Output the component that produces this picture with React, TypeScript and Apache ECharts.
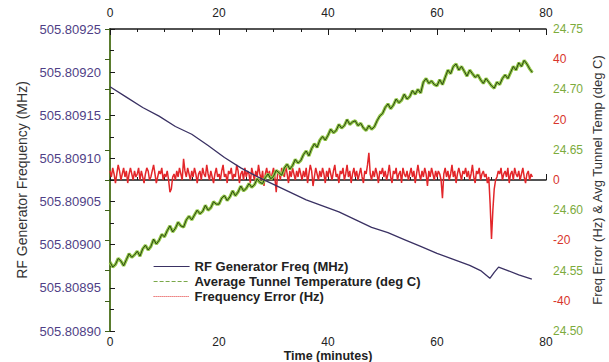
import React, { useEffect, useRef } from "react";
import * as echarts from "echarts";

const FONT = "'Liberation Sans', Arial, sans-serif";

const xTicks = [0, 20, 40, 60, 80];
const leftTicks = ["505.80890", "505.80895", "505.80900", "505.80905", "505.80910", "505.80915", "505.80920", "505.80925"];
const tempTicks = ["24.50", "24.55", "24.60", "24.65", "24.70", "24.75"];
const errTicks = [-40, -20, 0, 20, 40];

const rfTime = [0, 3, 6, 9, 12, 15, 18, 21, 24, 27, 30, 33, 36, 39, 42, 45, 48, 51, 54, 57, 60, 63, 66, 68, 69.7, 70.5, 71.3, 73, 75, 77.4];
const rfFreq = [
  505.809183, 505.809171, 505.809159, 505.809149, 505.809137, 505.809128, 505.809115, 505.809101,
  505.809089, 505.809079, 505.80907, 505.809061, 505.809052, 505.809045, 505.809038, 505.809029,
  505.80902, 505.809014, 505.809006, 505.808998, 505.80899, 505.808983, 505.808976, 505.80897,
  505.808961, 505.808968, 505.808974, 505.80897, 505.808965, 505.80896,
];

const tempStep = 0.5; // minutes between temperature samples
const tempC = [
  24.557, 24.553, 24.555, 24.560, 24.558, 24.554, 24.559, 24.564, 24.561, 24.563,
  24.566, 24.562, 24.568, 24.571, 24.567, 24.570, 24.576, 24.572, 24.575, 24.580,
  24.578, 24.583, 24.587, 24.582, 24.585, 24.590, 24.587, 24.586, 24.592, 24.595,
  24.592, 24.596, 24.600, 24.597, 24.599, 24.604, 24.600, 24.602, 24.607, 24.605,
  24.605, 24.610, 24.612, 24.608, 24.611, 24.616, 24.612, 24.615, 24.620, 24.616,
  24.618, 24.622, 24.619, 24.621, 24.626, 24.623, 24.622, 24.627, 24.630, 24.626,
  24.628, 24.633, 24.631, 24.629, 24.635, 24.638, 24.634, 24.637, 24.642, 24.639,
  24.641, 24.646, 24.649, 24.645, 24.651, 24.655, 24.652, 24.658, 24.661, 24.658,
  24.662, 24.667, 24.664, 24.666, 24.671, 24.668, 24.670, 24.675, 24.671, 24.673,
  24.674, 24.670, 24.672, 24.668, 24.666, 24.670, 24.667, 24.669, 24.674, 24.678,
  24.680, 24.685, 24.688, 24.684, 24.687, 24.692, 24.689, 24.691, 24.696, 24.692,
  24.694, 24.699, 24.696, 24.700, 24.697, 24.706, 24.709, 24.705, 24.707, 24.704,
  24.703, 24.708, 24.704, 24.710, 24.716, 24.713, 24.719, 24.721, 24.716, 24.719,
  24.715, 24.711, 24.716, 24.713, 24.710, 24.712, 24.708, 24.705, 24.709, 24.706,
  24.703, 24.701, 24.706, 24.704, 24.709, 24.712, 24.709, 24.714, 24.719, 24.716,
  24.722, 24.719, 24.724, 24.721, 24.717, 24.714,
];

const errStep = 0.25; // minutes between frequency-error samples
const errHz = [
  3, 1, 4, 2, -1, 2, 5, 3, 0, 2, 4, 1, 3, -1, 2, 4, 2, 0, 3, 1,
  2, 4, 0, 3, 1, -1, 2, 4, 3, 0, 1, 3, 5, 2, -1, 1, 3, 2, 4, 0,
  2, 1, 3, 0, -4, -3, 1, 2, 0, 3, 1, 4, 2, 0, 7, 3, 1, 4, 2, 0,
  3, 1, 4, 2, -1, 2, 3, 0, 4, 2, 1, 5, 2, 0, 3, 1, -1, 2, 4, 1,
  2, 0, 3, 5, 1, 2, -1, 3, 2, 4, 0, 2, 1, 5, 3, -1, 2, 3, 0, 4,
  1, 3, 2, -1, 4, 2, 0, 3, 1, 5, 2, 0, 3, -2, 2, 4, 1, 3, 0, 2,
  4, 1, -4, 2, 3, 0, 4, 2, 1, 5, 2, -1, 3, 1, 4, 2, 0, 3, 1, 4,
  2, 0, 3, 1, 4, -1, 2, 5, 3, -2, 1, 4, 2, 0, 3, 1, 4, 2, -1, 3,
  1, 4, 2, 0, 3, 5, 1, 2, -1, 3, 2, 4, 0, 2, 5, 1, 3, -1, 2, 4,
  1, 3, 0, 2, 4, 1, -1, 3, 2, 5, 9, 2, 0, 3, 1, 4, 2, -1, 3, 2,
  4, 1, 3, 0, 2, 5, 1, -1, 3, 2, 4, 0, 2, 3, -1, 4, 2, 1, 3, 0,
  2, 4, 1, 3, -1, 2, 5, 2, 0, 3, 1, 4, 2, -2, 3, 1, 4, 2, 0, 3,
  1, 3, 2, 0, -6, 2, 4, 1, 3, 0, 2, 5, 1, 3, -1, 2, 4, 2, 0, 3,
  2, 4, 1, 3, 0, 2, 5, 1, -1, 3, 2, 4, 0, 2, 3, 1, 2, -1, 1, -8,
  -19.5, -10, -3, 0, 1, 3, 2, 4, 0, 2, 3, 1, 4, -1, 2, 3, 0, 4, 2, 1,
  3, 0, 2, 4, 1, -1, 2, 3, 0, 2, 1,
];

const NAME_RF = "RF Generator Freq (MHz)";
const NAME_T = "Average Tunnel Temperature (deg C)";
const NAME_E = "Frequency Error (Hz)";

export default function App() {
  const ref = useRef<HTMLDivElement>(null);
  useEffect(() => {
    if (!ref.current) return;
    const chart = echarts.init(ref.current, undefined, { renderer: "svg" });
    const xCommon = {
      type: "value" as const,
      min: xTicks[0],
      max: xTicks[xTicks.length - 1],
      interval: 20,
      splitLine: { show: false },
      nameMoveOverlap: false,
      axisLine: { lineStyle: { color: "#1a1a1a", width: 1.5 } },
      axisTick: { inside: true, length: 6, lineStyle: { color: "#1a1a1a" } },
      minorTick: { show: true, splitNumber: 4, length: 3, lineStyle: { color: "#1a1a1a" } },
    };
    const xLabel = { color: "#222", fontSize: 12, fontFamily: FONT, lineHeight: 11 };
    const leftMin = parseFloat(leftTicks[0]);
    const leftMax = parseFloat(leftTicks[leftTicks.length - 1]);
    const tMin = parseFloat(tempTicks[0]);
    const tMax = parseFloat(tempTicks[tempTicks.length - 1]);
    chart.setOption({
      animation: false,
      backgroundColor: "#ffffff",
      grid: { left: 110, top: 29, width: 436, height: 302, containLabel: false, outerBoundsMode: "none" },
      legend: {
        left: 148,
        top: 255,
        orient: "vertical",
        itemWidth: 36,
        itemHeight: 10,
        itemGap: 2,
        itemStyle: { opacity: 0 },
        textStyle: { color: "#222", fontSize: 13, fontWeight: "bold", fontFamily: FONT, lineHeight: 12 },
        data: [
          { name: NAME_RF, lineStyle: { width: 1.2 } },
          { name: NAME_T, lineStyle: { type: "dashed", width: 1, color: "#7aa84a" } },
          { name: NAME_E, lineStyle: { type: "dotted", width: 1, color: "#e03030" } },
        ],
      },
      xAxis: [
        {
          ...xCommon,
          position: "bottom",
          axisLabel: { ...xLabel, margin: 5 },
          name: "Time (minutes)",
          nameLocation: "middle",
          nameGap: 19,
          nameTextStyle: { color: "#222", fontSize: 12.5, fontWeight: "bold", fontFamily: FONT, lineHeight: 11 },
        },
        { ...xCommon, position: "top", axisLabel: { ...xLabel, margin: 11 } },
      ],
      yAxis: [
        {
          type: "value",
          position: "left",
          min: leftMin,
          max: leftMax,
          interval: 0.00005,
          splitLine: { show: false },
          nameMoveOverlap: false,
          axisLine: { show: true, lineStyle: { color: "#1a1a1a", width: 1.5 } },
          axisTick: { inside: true, length: 5, lineStyle: { color: "#1a1a1a" } },
          minorTick: { show: true, splitNumber: 2, length: 4, lineStyle: { color: "#1a1a1a" } },
          axisLabel: {
            color: "#4f3f86",
            fontSize: 13,
            fontFamily: FONT,
            margin: 9,
            formatter: (v: number) => v.toFixed(5),
          },
          name: "RF Generator Frequency (MHz)",
          nameLocation: "middle",
          nameRotate: 90,
          nameGap: 81,
          nameTextStyle: { color: "#333", fontSize: 14, fontFamily: FONT },
        },
        {
          type: "value",
          position: "right",
          min: tMin,
          max: tMax,
          interval: 0.05,
          splitLine: { show: false },
          nameMoveOverlap: false,
          axisLine: { show: true, lineStyle: { color: "#5c8a22", width: 1.5 } },
          axisTick: { inside: true, length: 5, lineStyle: { color: "#3f5f1a" } },
          minorTick: { show: true, splitNumber: 2, length: 5, lineStyle: { color: "#3f5f1a" } },
          axisLabel: {
            color: "#7cab3c",
            fontSize: 12,
            fontFamily: FONT,
            margin: 7,
            formatter: (v: number) => v.toFixed(2),
          },
          name: "Freq Error (Hz) & Avg Tunnel Temp (deg C)",
          nameLocation: "middle",
          nameRotate: 90,
          nameGap: 45,
          nameTextStyle: { color: "#333", fontSize: 13, fontFamily: FONT },
        },
        {
          type: "value",
          position: "right",
          min: -50,
          max: 50,
          interval: 10,
          splitLine: { show: false },
          axisLine: { show: false },
          axisTick: { show: false },
          axisLabel: {
            color: "#d8342c",
            fontSize: 12,
            fontFamily: FONT,
            margin: 7,
            formatter: (v: number) => (errTicks.indexOf(Math.round(v)) >= 0 ? String(Math.round(v)) : ""),
          },
        },
      ],
      series: [
        {
          name: NAME_E,
          type: "line",
          yAxisIndex: 2,
          symbol: "none",
          z: 2,
          lineStyle: { color: "#e3262a", width: 1.5 },
          itemStyle: { color: "#e03030" },
          data: errHz.map((v, i) => [i * errStep, v]),
        },
        {
          name: NAME_T,
          type: "line",
          yAxisIndex: 1,
          symbol: "none",
          z: 3,
          lineStyle: { color: "#93c847", width: 3.2 },
          itemStyle: { color: "#7aa84a" },
          data: tempC.map((v, i) => [i * tempStep, v]),
        },
        {
          name: "tempCore",
          type: "line",
          yAxisIndex: 1,
          symbol: "none",
          z: 4,
          lineStyle: { color: "#1f3510", width: 0.9 },
          data: tempC.map((v, i) => [i * tempStep, v]),
        },
        {
          name: NAME_RF,
          type: "line",
          yAxisIndex: 0,
          symbol: "none",
          z: 5,
          lineStyle: { color: "#3a3163", width: 1.3 },
          itemStyle: { color: "#3a3163" },
          data: rfTime.map((t, i) => [t, rfFreq[i]]),
        },
      ],
    });
    return () => chart.dispose();
  }, []);
  return <div ref={ref} style={{ width: 609, height: 362, position: "absolute", left: 0, top: 0 }} />;
}
